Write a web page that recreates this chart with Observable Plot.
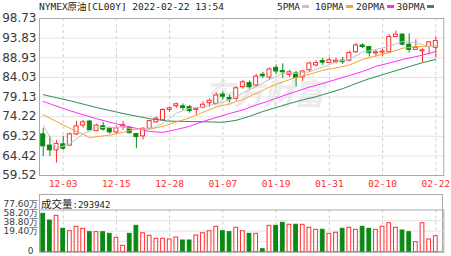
<!DOCTYPE html>
<html><head><meta charset="utf-8">
<script src="https://cdn.jsdelivr.net/npm/d3@7"></script>
<script src="https://cdn.jsdelivr.net/npm/@observablehq/plot@0.6"></script>
<style>
html,body{margin:0;padding:0;background:#fff;}
#wrap{position:relative;width:451px;height:256px;overflow:hidden;background:#fff;}
.abs{position:absolute;}
.mono{font-family:"DejaVu Sans Mono","Noto Sans CJK SC",monospace;}
#title{left:39px;top:0px;font-size:9.5px;line-height:13px;color:#222;white-space:nowrap;}
.lg{position:absolute;top:0;font-size:9.5px;line-height:13px;color:#222;white-space:nowrap;}
.sw{display:inline-block;width:7px;height:3px;margin-left:2px;vertical-align:middle;position:relative;top:-1px;}
#volbox{left:39px;top:194px;width:404.3px;height:57.7px;border:1px solid #aaa;box-sizing:border-box;}
#volhead{left:41px;top:195px;line-height:15px;white-space:nowrap;color:#222;}
#volhead .cjk{font-family:"Noto Sans CJK SC";font-size:10.5px;}
#volhead .num{font-family:"DejaVu Sans Mono";font-size:9px;}
</style></head><body>
<div id="wrap">
  <div id="volbox" class="abs"></div>
  <div id="main" class="abs" style="left:0;top:0"></div>
  <div id="vol" class="abs" style="left:0;top:194px"></div>
  <div id="title" class="abs mono"></div>
  <div id="legend"></div>
  <div id="volhead" class="abs"></div>
</div>
<script>
const titleText = "NYMEX原油[CL00Y] 2022-02-22 13:54";
const dates = ["11-30","12-01","12-02","12-03","12-06","12-07","12-08","12-09","12-10","12-13",
  "12-14","12-15","12-16","12-17","12-20","12-21","12-22","12-23","12-27","12-28",
  "12-29","12-30","12-31","01-03","01-04","01-05","01-06","01-07","01-10","01-11",
  "01-12","01-13","01-14","01-17","01-18","01-19","01-20","01-21","01-24","01-25",
  "01-26","01-27","01-28","01-31","02-01","02-02","02-03","02-04","02-07","02-08",
  "02-09","02-10","02-11","02-14","02-15","02-16","02-17","02-18","02-21","02-22"];
const open  = [69.8,67.0,65.8,67.3,67.0,69.8,72.0,73.0,70.6,71.8, 71.2,70.3,71.8,71.4,69.9,69.3,71.2,72.8,73.3,75.9,
  76.8,76.8,76.6,75.9,76.4,77.6,77.4,79.7,78.9,78.7, 81.6,82.6,82.0,84.7,84.0,86.4,85.6,84.6,85.0,84.0,
  85.8,87.0,88.1,87.6,87.8,88.2,88.2,90.3,92.0,91.6, 90.0,90.2,90.3,94.1,94.7,92.2,90.9,90.5,91.6,91.4];
const high  = [71.3,69.3,68.3,69.3,70.1,73.0,73.3,73.3,72.3,72.8, 71.6,71.9,73.0,71.7,70.0,71.4,73.3,74.1,76.2,76.7,
  77.6,77.4,77.0,76.3,77.9,78.6,80.1,80.3,79.6,81.7, 83.3,83.1,84.8,85.3,86.4,87.1,87.4,85.8,85.5,85.7,
  87.8,88.2,88.8,88.9,88.8,89.0,90.6,92.5,92.4,91.8, 90.7,91.0,94.7,95.6,94.9,94.9,93.4,91.2,93.0,94.1];
const low   = [64.3,64.3,62.6,65.8,66.8,69.5,71.3,70.6,70.5,70.6, 69.8,69.8,70.8,69.9,66.2,68.4,70.9,72.6,73.1,75.3,
  76.2,75.8,75.1,74.5,76.2,76.6,77.3,78.4,77.7,78.1, 81.1,81.1,81.5,83.8,83.2,84.8,83.7,84.0,81.6,83.0,
  85.3,86.6,87.0,87.4,87.4,87.3,87.9,90.0,91.2,89.1, 89.1,89.2,89.9,94.0,91.9,90.1,90.7,87.6,89.6,88.9];
const close = [66.8,65.8,67.4,66.2,69.8,71.8,72.8,70.8,72.0,71.0, 70.3,71.3,72.1,70.1,69.1,71.2,73.1,73.7,75.9,76.3,
  77.3,76.4,75.6,76.2,77.2,78.2,79.5,79.2,78.5,81.3, 82.8,81.6,84.2,84.3,86.0,85.5,85.3,85.3,83.9,85.5,
  87.5,87.6,87.7,88.3,88.2,87.8,90.1,92.0,91.6,90.1, 90.3,90.5,94.1,94.7,92.2,90.9,91.4,90.8,92.8,93.1];
// volume in 万
const lastVolume = 293942;
const volume = [70.6,58.3,66.9,43.0,38.6,46.7,43.0,36.8,36.8,36.8, 33.8,26.5,11.8,33.8,48.5,34.9,30.2,24.6,24.6,23.4,
  27.0,21.5,21.5,30.7,34.9,38.6,46.7,38.6,36.8,44.9, 38.6,33.8,33.8,5.5,48.5,48.5,54.1,50.4,50.4,50.4,
  44.9,41.2,41.2,33.8,35.7,43.0,44.9,41.2,46.7,43.0, 41.2,46.7,53.3,44.9,39.9,36.8,18.4,53.3,23.4,lastVolume/1e4];

const ma5At  = [0,2,4,6,8,10,12,14,16,18,20,22,24,26,28,30,32,34,36,38,40,42,44,46,48,50,52,54,56,58,59];
const ma5    = [72.0,66.3,67.4,69.9,71.5,71.5,71.6,71.0,71.2,72.5,75.1,76.3,76.6,77.4,78.4,80.1,81.7,83.5,85.0,85.0,85.4,86.6,87.8,88.6,90.3,91.0,91.8,93.0,92.7,91.7,91.9];
const ma10At = [0,4,7,10,12,14,16,18,20,22,24,26,28,30,32,34,36,38,40,42,44,46,48,50,52,54,56,58,59];
const ma10   = [74.7,71.3,69.0,69.6,70.3,71.1,71.1,71.8,72.9,73.9,75.3,76.6,77.4,78.5,80.0,81.6,82.9,84.0,84.8,85.8,86.4,87.1,88.5,89.4,90.2,91.3,91.7,91.7,92.0];
const ma20At = [0,4,8,12,14,16,18,20,22,24,26,28,30,32,34,36,38,40,42,44,46,48,50,52,54,56,58,59];
const ma20   = [78.0,75.7,73.7,72.0,71.3,70.5,70.3,71.0,71.8,73.0,74.0,75.0,75.9,77.1,78.2,79.4,80.5,81.6,82.5,83.5,84.5,85.5,86.8,87.6,88.5,89.2,90.0,90.5];
const ma30At = [0,4,8,12,16,19,22,25,27,29,31,33,35,37,39,41,43,45,47,49,51,53,55,57,59];
const ma30   = [79.7,78.2,76.5,75.0,73.7,73.1,73.0,72.9,72.8,73.3,74.3,75.5,76.5,77.5,78.4,79.2,80.2,81.2,82.5,83.7,84.7,85.7,86.7,87.7,88.5];

const maNames = ["5PMA","10PMA","20PMA","30PMA"];
const yTicks = [59.52,64.42,69.32,74.22,79.13,84.03,88.93,93.83,98.73];
const volTicks = [0,19.4,38.8,58.2,77.6];
const xTickLabels = ["12-03","12-15","12-28","01-07","01-19","01-31","02-10","02-22"];

const RED = "#ff2e2e", GREEN = "#0a8a12";
const maColors = {"5PMA":"#c3c3c3","10PMA":"#f4a62a","20PMA":"#ff2cff","30PMA":"#2f8f55"};

const candles = dates.map((d,i)=>({i, o:open[i], h:high[i], l:low[i], c:close[i], v:volume[i], up: close[i] >= open[i]}));
const mk = (at, vals, name) => at.map((i,k)=>({i, v:vals[k], name}));
const maData = [...mk(ma30At, ma30, "30PMA"), ...mk(ma20At, ma20, "20PMA"), ...mk(ma10At, ma10, "10PMA"), ...mk(ma5At, ma5, "5PMA")];
const xTicks = xTickLabels.map(s => dates.indexOf(s));
const xDomain = [-0.56, 60.2];
const hw = 0.3;

const main = Plot.plot({
  width: 451, height: 192,
  marginLeft: 39, marginRight: 7.7, marginTop: 18, marginBottom: 17,
  style: {background: "transparent", overflow: "visible"},
  x: {type: "linear", domain: xDomain, axis: null},
  y: {type: "linear", domain: [yTicks[0], yTicks[yTicks.length-1]], axis: null},
  marks: [
    Plot.text(["东方财富"], {text: d => d, frameAnchor: "middle", dx: 22, dy: -2, fontSize: 30, fontWeight: "bold", fontStyle: "italic", fill: "#ececec", fontFamily: "Noto Sans CJK SC"}),
    Plot.ruleY(yTicks, {stroke: "#e3e3e3"}),
    Plot.ruleX(xTicks, {stroke: "#cfcfcf", strokeDasharray: "3,3"}),
    Plot.ruleX(candles, {x: "i", y1: "l", y2: "h", stroke: d => d.up ? RED : GREEN}),
    Plot.rect(candles, {x1: d => d.i - hw, x2: d => d.i + hw, y1: "o", y2: "c", fill: d => d.up ? "white" : GREEN, stroke: d => d.up ? RED : GREEN, strokeWidth: 1}),
    Plot.line(maData, {x: "i", y: "v", z: "name", stroke: d => maColors[d.name], strokeWidth: 1}),
    Plot.frame({stroke: "#a9a9a9"}),
    Plot.axisY(yTicks, {tickSize: 0, tickPadding: 3, tickFormat: d => d.toFixed(2), fontSize: 12, fontFamily: "DejaVu Sans", color: "#3a3a3a", label: null}),
    Plot.axisX(xTicks, {tickSize: 0, tickPadding: 5, tickFormat: i => dates[i], fontSize: 9.5, fontFamily: "DejaVu Sans Mono", color: "#ff2e2e", label: null})
  ]
});
document.getElementById("main").appendChild(main);

const volDy = [-1.4, -10.4, -9.4, -7.6, -5.8];
const volPad = [6, 1.3, 1.3, 1.3, 1.3];
const vol = Plot.plot({
  width: 451, height: 62,
  marginLeft: 39, marginRight: 7.7, marginTop: 15.5, marginBottom: 4.3,
  style: {background: "transparent", overflow: "visible"},
  x: {type: "linear", domain: xDomain, axis: null},
  y: {type: "linear", domain: [volTicks[0], volTicks[volTicks.length-1]], axis: null},
  marks: [
    Plot.ruleY(volTicks.slice(1, -1), {stroke: "#e3e3e3"}),
    Plot.ruleX(xTicks, {stroke: "#cfcfcf", strokeDasharray: "3,3"}),
    Plot.rect(candles, {x1: d => d.i - 0.28, x2: d => d.i + 0.28, y1: 0, y2: "v", fill: d => d.up ? "white" : GREEN, stroke: d => d.up ? RED : GREEN, strokeWidth: 1}),
    Plot.frame({stroke: "#a9a9a9"}),
    ...volTicks.map((t, k) => Plot.axisY([t], {tickSize: 0, tickPadding: volPad[k], dy: volDy[k], tickFormat: d => d === 0 ? "0" : d.toFixed(2) + "万", fontSize: 9, fontFamily: "DejaVu Sans", color: "#3a3a3a", label: null}))
  ]
});
document.getElementById("vol").appendChild(vol);

document.getElementById("title").textContent = titleText;
const legendX = [277, 315, 356, 396.5];
const lg = document.getElementById("legend");
maNames.forEach((n, k) => {
  const s = document.createElement("div");
  s.className = "lg mono";
  s.style.left = legendX[k] + "px";
  s.innerHTML = n + '<span class="sw" style="background:' + maColors[n] + '"></span>';
  lg.appendChild(s);
});
document.getElementById("volhead").innerHTML = '<span class="cjk">成交量</span><span class="num">:' + lastVolume + '</span>';
</script>
</body></html>
